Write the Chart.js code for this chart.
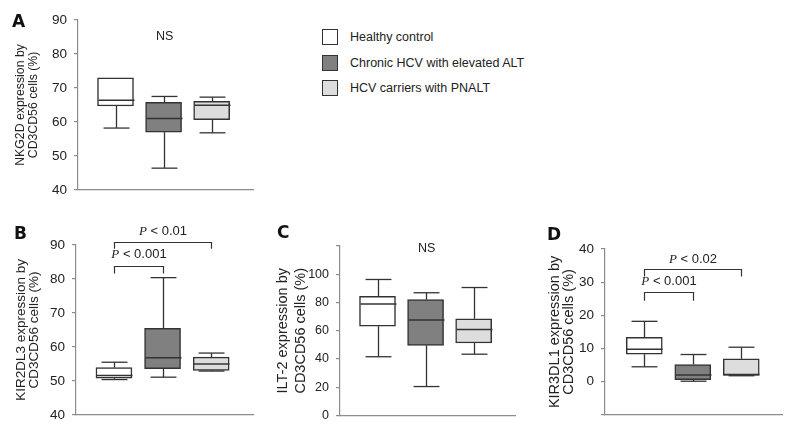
<!DOCTYPE html>
<html>
<head>
<meta charset="utf-8">
<script src="https://cdn.jsdelivr.net/npm/chart.js@4"></script>
<style>
  body { margin: 0; background: #fff; width: 800px; height: 441px; position: relative; overflow: hidden;
         font-family: "Liberation Sans", Arial, sans-serif; color: #222; }
  .panel { position: absolute; width: 270px; height: 205px; }
  .legend { position: absolute; left: 322px; top: 29px; font-size: 12.5px; }
  .legend .row { position: relative; height: 25.7px; }
  .legend .sw { position: absolute; left: 0; top: 0; width: 14px; height: 14px; border: 1px solid #333; }
  .legend .tx { position: absolute; left: 28px; top: 0px; white-space: nowrap; line-height: 16px; }
</style>
</head>
<body>
<div class="legend" id="legend"></div>
<div class="panel" style="left:0px;top:0px"><canvas id="chartA" width="270" height="205"></canvas></div>
<div class="panel" style="left:-2px;top:225px"><canvas id="chartB" width="270" height="205"></canvas></div>
<div class="panel" style="left:262px;top:225px"><canvas id="chartC" width="270" height="205"></canvas></div>
<div class="panel" style="left:527px;top:225px"><canvas id="chartD" width="270" height="205"></canvas></div>
<script>
const groups = ["Healthy control", "Chronic HCV with elevated ALT", "HCV carriers with PNALT"];
const groupColors = ["#ffffff", "#808080", "#dddddd"];

// A: NKG2D
const nkg2dMin = [58.2, 46.4, 56.8];
const nkg2dQ1 = [64.7, 57.0, 60.7];
const nkg2dMed = [66.4, 61.0, 64.9];
const nkg2dQ3 = [73.0, 65.8, 66.1];
const nkg2dMax = [73.0, 67.5, 67.3];
const nkg2dTicks = [40, 50, 60, 70, 80, 90];

// B: KIR2DL3
const kir2dl3Min = [50.4, 51.1, 52.9];
const kir2dl3Q1 = [50.8, 53.6, 53.1];
const kir2dl3Med = [51.6, 56.8, 55.0];
const kir2dl3Q3 = [53.9, 65.5, 57.0];
const kir2dl3Max = [55.5, 80.4, 58.2];
const kir2dl3Ticks = [40, 50, 60, 70, 80, 90];

// C: ILT-2
const ilt2Min = [41.6, 20.5, 43.4];
const ilt2Q1 = [63.2, 49.7, 51.3];
const ilt2Med = [78.9, 67.6, 60.9];
const ilt2Q3 = [84.4, 82.1, 68.5];
const ilt2Max = [96.3, 86.9, 90.6];
const ilt2Ticks = [0, 20, 40, 60, 80, 100];

// D: KIR3DL1
const kir3dl1Min = [4.5, 0.15, 1.8];
const kir3dl1Q1 = [8.3, 0.6, 1.9];
const kir3dl1Med = [9.8, 2.0, 2.2];
const kir3dl1Q3 = [13.4, 5.2, 6.9];
const kir3dl1Max = [18.2, 8.2, 10.4];
const kir3dl1Ticks = [0, 10, 20, 30, 40];

// significance brackets (group numbers, heights in axis units)
const kir2dl3Brackets = [
  { from: 1, to: 2, top: 83.7, leg: 81.6, label: " < 0.001", labelY: 87.1 },
  { from: 1, to: 3, top: 90.9, leg: 88.9, label: " < 0.01", labelY: 94.0 }
];
const kir3dl1Brackets = [
  { from: 1, to: 2, top: 27.0, leg: 24.4, label: " < 0.001", labelY: 30.1 },
  { from: 1, to: 3, top: 34.0, leg: 31.7, label: " < 0.02", labelY: 36.8 }
];

const FONT = "'Liberation Sans', Arial, sans-serif";
const AXIS = "#8c8c8c";
const INK = "#333";

// legend
const legendEl = document.getElementById("legend");
groups.forEach((g, i) => {
  const row = document.createElement("div");
  row.className = "row";
  row.innerHTML = '<span class="sw" style="background:' + groupColors[i] + '"></span><span class="tx">' + g + "</span>";
  legendEl.appendChild(row);
});

function line(ctx, x1, y1, x2, y2) {
  ctx.beginPath();
  ctx.moveTo(x1, y1);
  ctx.lineTo(x2, y2);
  ctx.stroke();
}

const boxWhiskers = {
  id: "boxWhiskers",
  afterDatasetsDraw(chart, args, o) {
    const { ctx, scales: { x, y } } = chart;
    const bars = chart.getDatasetMeta(0).data;
    ctx.save();
    ctx.strokeStyle = INK;
    ctx.lineWidth = 1.3;
    for (let i = 0; i < o.med.length; i++) {
      const cx = Math.round(x.getPixelForValue(i + 1)) + 0.5;
      const half = bars[i].width / 2;
      const cap = half * 0.72;
      const yMax = y.getPixelForValue(o.max[i]);
      const yMin = y.getPixelForValue(o.min[i]);
      const yQ1 = y.getPixelForValue(o.q1[i]);
      const yQ3 = y.getPixelForValue(o.q3[i]);
      const yMed = y.getPixelForValue(o.med[i]);
      if (o.max[i] > o.q3[i]) {
        line(ctx, cx, yQ3, cx, yMax);
        line(ctx, cx - cap, yMax, cx + cap, yMax);
      }
      if (o.min[i] < o.q1[i]) {
        line(ctx, cx, yQ1, cx, yMin);
        line(ctx, cx - cap, yMin, cx + cap, yMin);
      }
      ctx.lineWidth = 1.5;
      line(ctx, cx - half, yMed, cx + half, yMed);
      ctx.lineWidth = 1.3;
    }
    ctx.restore();
  }
};

const panelText = {
  id: "panelText",
  afterDraw(chart, args, o) {
    const { ctx, scales: { x, y } } = chart;
    ctx.save();
    ctx.fillStyle = "#111";
    ctx.textBaseline = "middle";
    ctx.textAlign = "left";
    ctx.font = "bold 17px 'DejaVu Sans', sans-serif";
    ctx.fillText(o.letter, o.letterX, o.letterY);
    ctx.fillStyle = "#222";
    if (o.nsY !== undefined) {
      ctx.font = "12.5px " + FONT;
      ctx.textAlign = "center";
      ctx.fillText("NS", x.getPixelForValue(2) + 1, y.getPixelForValue(o.nsY));
    }
    (o.brackets || []).forEach(b => {
      const x1 = Math.round(x.getPixelForValue(b.from)) + 0.5;
      const x2 = Math.round(x.getPixelForValue(b.to)) + 0.5;
      const yt = Math.round(y.getPixelForValue(b.top)) + 0.5;
      const yl = y.getPixelForValue(b.leg);
      ctx.strokeStyle = INK;
      ctx.lineWidth = 1.2;
      ctx.beginPath();
      ctx.moveTo(x1, yl);
      ctx.lineTo(x1, yt);
      ctx.lineTo(x2, yt);
      ctx.lineTo(x2, yl);
      ctx.stroke();
      const pFont = "italic 13px 'Liberation Serif', serif";
      const rFont = "13px " + FONT;
      ctx.font = pFont;
      const wP = ctx.measureText("P").width;
      ctx.font = rFont;
      const wR = ctx.measureText(b.label).width;
      const start = (x1 + x2) / 2 - (wP + wR) / 2;
      const ly = y.getPixelForValue(b.labelY);
      ctx.textAlign = "left";
      ctx.font = pFont;
      ctx.fillText("P", start, ly);
      ctx.font = rFont;
      ctx.fillText(b.label, start + wP, ly);
    });
    ctx.restore();
  }
};

function makePanel(id, p) {
  const stats = { min: p.min, q1: p.q1, med: p.med, q3: p.q3, max: p.max };
  return new Chart(document.getElementById(id), {
    type: "bar",
    data: {
      datasets: [{
        data: p.q1.map((v, i) => ({ x: i + 1, y: [v, p.q3[i]] })),
        backgroundColor: groupColors,
        borderColor: INK,
        borderWidth: 1.5,
        borderSkipped: false,
        barThickness: 36
      }]
    },
    options: {
      responsive: false,
      animation: false,
      devicePixelRatio: 1,
      layout: { padding: { left: 0, top: p.padTop, right: p.padRight, bottom: p.padBottom } },
      scales: {
        x: {
          type: "linear",
          offset: false,
          min: p.xMin,
          max: p.xMax,
          ticks: { display: false },
          grid: { display: false, offset: false },
          border: { display: true, color: AXIS, width: 1.2 },
          afterFit: s => { s.height = 0; }
        },
        y: {
          min: p.yMin,
          max: p.yMax,
          ticks: {
            stepSize: p.step,
            padding: 7,
            color: "#222",
            font: { family: FONT, size: p.tickSize },
            callback: v => (p.ticks.includes(v) ? v : "")
          },
          grid: { drawOnChartArea: false, drawTicks: true, tickLength: 4, color: AXIS, lineWidth: 1.2 },
          border: { display: true, color: AXIS, width: 1.2 },
          title: {
            display: true,
            text: p.title,
            color: "#222",
            font: { family: FONT, size: p.titleSize, lineHeight: p.titleLH },
            padding: { top: p.titlePad, bottom: 0 }
          },
          afterFit: s => { s.width = p.axisX; }
        }
      },
      plugins: {
        legend: { display: false },
        tooltip: { enabled: false },
        boxWhiskers: stats,
        panelText: { letter: p.letter, letterX: p.letterX, letterY: p.letterY, nsY: p.nsY, brackets: p.brackets }
      }
    },
    plugins: [boxWhiskers, panelText]
  });
}

makePanel("chartA", {
  min: nkg2dMin, q1: nkg2dQ1, med: nkg2dMed, q3: nkg2dQ3, max: nkg2dMax, ticks: nkg2dTicks,
  yMin: 40, yMax: 90, step: 10, xMin: 0.22, xMax: 3.86,
  axisX: 78, padTop: 20, padRight: 17, padBottom: 11,
  tickSize: 13.5, titleSize: 12.3,
  title: ["NKG2D expression by", "CD3CD56 cells (%)"], titleLH: "13.5px", titlePad: 13.75,
  letter: "A", letterX: 12, letterY: 23, nsY: 85.1
});

makePanel("chartB", {
  min: kir2dl3Min, q1: kir2dl3Q1, med: kir2dl3Med, q3: kir2dl3Q3, max: kir2dl3Max, ticks: kir2dl3Ticks,
  yMin: 40, yMax: 90, step: 10, xMin: 0.22, xMax: 3.86,
  axisX: 78, padTop: 20, padRight: 15, padBottom: 10,
  tickSize: 13.5, titleSize: 13.5,
  title: ["KIR2DL3 expression by", "CD3CD56 cells (%)"], titleLH: "13.5px", titlePad: 16.25,
  letter: "B", letterX: 16, letterY: 10, brackets: kir2dl3Brackets
});

makePanel("chartC", {
  min: ilt2Min, q1: ilt2Q1, med: ilt2Med, q3: ilt2Q3, max: ilt2Max, ticks: ilt2Ticks,
  yMin: 0, yMax: 120, step: 20, xMin: 0.22, xMax: 3.86,
  axisX: 78, padTop: 21, padRight: 17, padBottom: 9,
  tickSize: 12.5, titleSize: 14.5,
  title: ["ILT-2 expression by", "CD3CD56 cells (%)"], titleLH: "18px", titlePad: 12,
  letter: "C", letterX: 15, letterY: 9, nsY: 118
});

makePanel("chartD", {
  min: kir3dl1Min, q1: kir3dl1Q1, med: kir3dl1Med, q3: kir3dl1Q3, max: kir3dl1Max, ticks: kir3dl1Ticks,
  yMin: -10, yMax: 40, step: 10, xMin: 0.19, xMax: 3.84,
  axisX: 78, padTop: 24, padRight: 15, padBottom: 7,
  tickSize: 13.5, titleSize: 14.5,
  title: ["KIR3DL1 expression by", "CD3CD56 cells (%)"], titleLH: "14px", titlePad: 20.5,
  letter: "D", letterX: 20, letterY: 11, brackets: kir3dl1Brackets
});
</script>
</body>
</html>
